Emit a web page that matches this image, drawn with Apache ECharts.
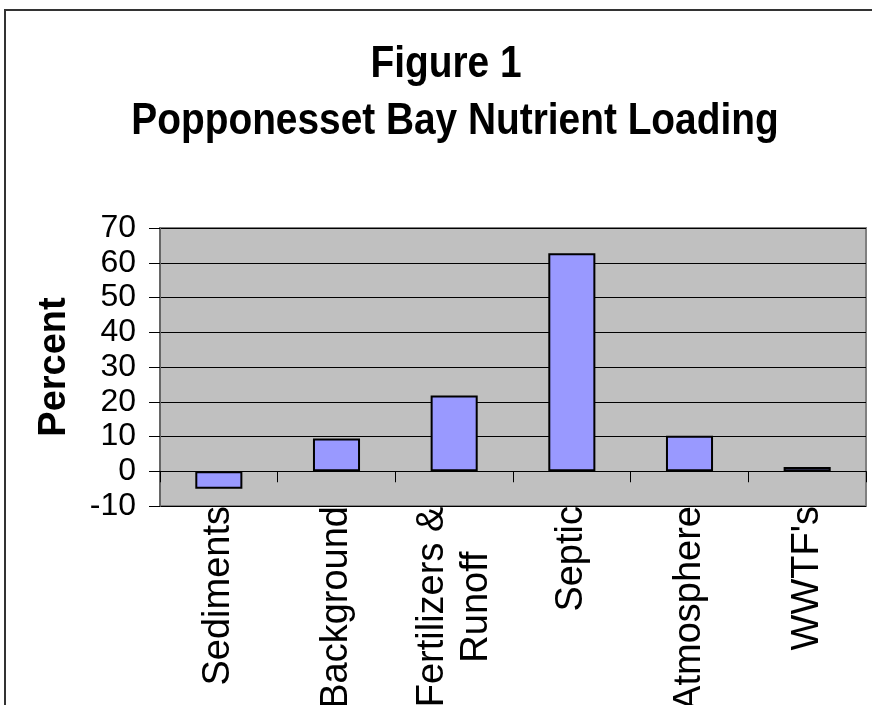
<!DOCTYPE html>
<html>
<head>
<meta charset="utf-8">
<script src="https://cdn.jsdelivr.net/npm/echarts@6/dist/echarts.min.js"></script>
<style>
  html, body { margin: 0; padding: 0; background: #fff; }
  #chart { width: 872px; height: 705px; }
</style>
</head>
<body>
<div id="chart"></div>
<script>
// data
const categories = ['Sediments', 'Background', 'Fertilizers &\nRunoff', 'Septic', 'Atmosphere', "WWTF's"]
const percents = [-5.0, 9.4, 21.8, 62.7, 10.2, 1.2]
const yTicks = { min: -10, max: 70, step: 10 }
const titleLines = ['Figure 1', 'Popponesset Bay Nutrient Loading']

const font = '"Liberation Sans", Arial, sans-serif'
const chart = echarts.init(document.getElementById('chart'))

// title drawn squeezed sideways, like the original
function titleText(text, x, y) {
  return {
    type: 'text',
    x: x,
    y: y,
    scaleX: 0.863,
    silent: true,
    style: {
      text: text,
      font: 'bold 45px ' + font,
      fill: '#000',
      align: 'center',
      verticalAlign: 'middle'
    }
  }
}

chart.setOption({
  animation: false,
  backgroundColor: '#fff',
  graphic: [
    {
      // outer chart frame, cut off on the right and bottom
      type: 'rect',
      shape: { x: 5, y: 10, width: 900, height: 800 },
      style: { fill: 'none', stroke: '#333', lineWidth: 2 },
      silent: true
    },
    titleText(titleLines[0], 446, 65),
    titleText(titleLines[1], 455, 122)
  ],
  grid: {
    left: 160,
    right: 6,
    top: 228,
    bottom: 199,
    outerBoundsMode: 'none',
    show: true,
    backgroundColor: '#C0C0C0',
    borderColor: '#808080',
    borderWidth: 2
  },
  xAxis: [
    {
      // labels at the bottom of the plot
      type: 'category',
      data: categories,
      position: 'bottom',
      axisLine: { show: false, onZero: false },
      axisTick: { show: false },
      axisLabel: {
        rotate: 90,
        margin: 0,
        interval: 0,
        fontFamily: font,
        fontSize: 38,
        lineHeight: 44,
        color: '#000',
        // two-line label: lines centred on each other
        formatter: function(v) {
          if (v.indexOf('\n') < 0) return v
          return v.split('\n').map(s => '{c|' + s + '}').join('\n')
        },
        rich: {
          c: {
            width: 202,
            align: 'center',
            fontFamily: font,
            fontSize: 38,
            lineHeight: 44,
            color: '#000'
          }
        }
      }
    },
    {
      // category line with ticks sitting on zero
      type: 'category',
      data: categories,
      position: 'bottom',
      axisLine: { show: true, onZero: true, lineStyle: { color: '#000', width: 1 } },
      axisTick: { show: true, length: 11, lineStyle: { color: '#000', width: 1 } },
      axisLabel: { show: false }
    }
  ],
  yAxis: {
    type: 'value',
    min: yTicks.min,
    max: yTicks.max,
    interval: yTicks.step,
    name: 'Percent',
    nameLocation: 'middle',
    nameRotate: 90,
    nameGap: 86,
    nameTextStyle: {
      fontFamily: font,
      fontWeight: 'bold',
      fontSize: 38,
      color: '#000'
    },
    axisLine: { show: true, lineStyle: { color: '#666', width: 2 } },
    axisTick: { show: true, inside: false, length: 11, lineStyle: { color: '#000' } },
    axisLabel: {
      margin: 24,
      fontFamily: font,
      fontSize: 32,
      color: '#000'
    },
    splitLine: { show: true, lineStyle: { color: '#000', width: 1 } }
  },
  series: [
    {
      type: 'bar',
      xAxisIndex: 0,
      data: percents,
      barWidth: '40%',
      itemStyle: {
        color: '#9999FF',
        borderColor: '#000',
        borderWidth: 2
      }
    }
  ]
})
</script>
</body>
</html>
